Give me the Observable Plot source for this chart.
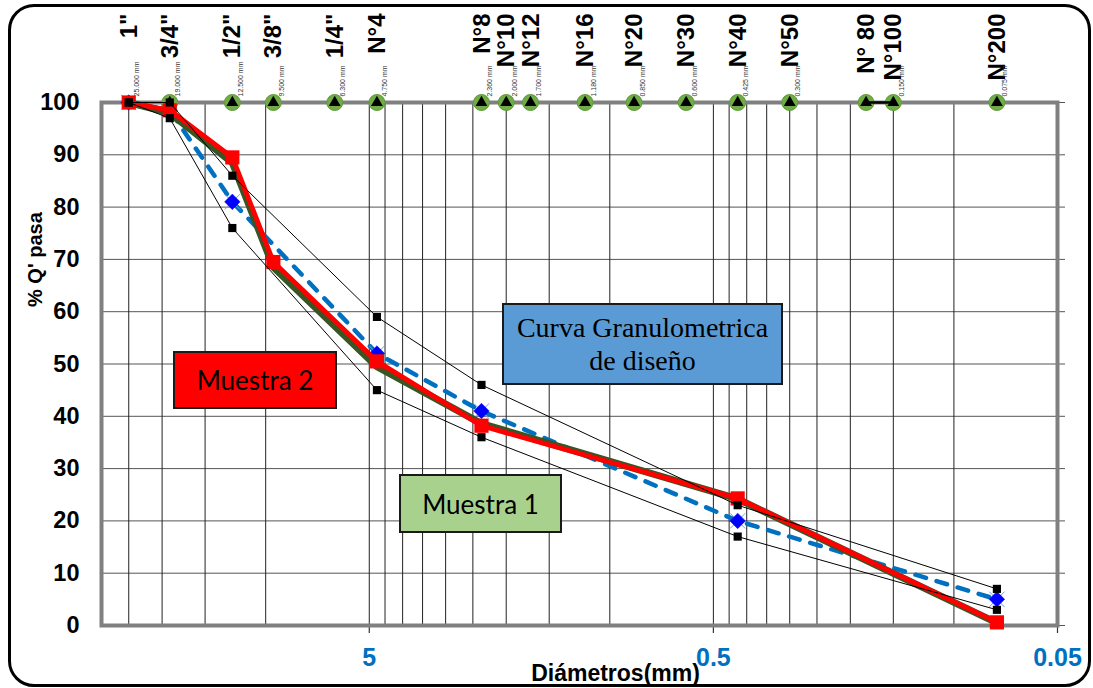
<!DOCTYPE html>
<html>
<head>
<meta charset="utf-8">
<script src="https://cdn.jsdelivr.net/npm/d3@7"></script>
<script src="https://cdn.jsdelivr.net/npm/@observablehq/plot@0.6"></script>
<style>
  body { margin: 0; background: #fff; }
  #wrap { position: relative; width: 1093px; height: 688px; overflow: hidden; background: #fff; }
  #wrap svg { position: absolute; left: 0; top: 0; }
  .outer { position: absolute; left: 8px; top: 4px; width: 1083px; height: 683px; box-sizing: border-box;
           border: 3px solid #000; border-radius: 26px; pointer-events: none; }
  .box { position: absolute; box-sizing: border-box; border: 2px solid #1a1a1a; display: flex;
         align-items: center; justify-content: center; text-align: center; color: #000; }
  .m2 { left: 173px; top: 351px; width: 164px; height: 58px; background: #ff0000;
        font-family: Lato, "Open Sans", sans-serif; font-size: 26px; }
  .m1 { left: 399px; top: 474px; width: 163px; height: 59px; background: #a9d18e;
        font-family: Lato, "Open Sans", sans-serif; font-size: 26px; }
  .cd { left: 502px; top: 303px; width: 281px; height: 82px; background: #5b9bd5;
        font-family: "Liberation Serif", "DejaVu Serif", serif; font-size: 28px; line-height: 33px; }
</style>
</head>
<body>
<div id="wrap"></div>
<script>
// ---- data ----
const sieveNames = ["1\"", "3/4\"", "1/2\"", "3/8\"", "1/4\"", "N°4", "N°8", "N°10", "N°12", "N°16", "N°20", "N°30", "N°40", "N°50", "N° 80", "N°100", "N°200"];
const sieveMm = [25, 19, 12.5, 9.5, 6.3, 4.75, 2.36, 2.0, 1.7, 1.18, 0.85, 0.6, 0.425, 0.3, 0.18, 0.15, 0.075];
const sieveMmLabels = ["25.000 mm", "19.000 mm", "12.500 mm", "9.500 mm", "6.300 mm", "4.750 mm", "2.360 mm", "2.000 mm", "1.700 mm", "1.180 mm", "0.850 mm", "0.600 mm", "0.425 mm", "0.300 mm", "", "0.150 mm", "0.075 mm"];
const sieveMarkerMm = [19, 12.5, 9.5, 6.3, 4.75, 2.36, 2.0, 1.7, 1.18, 0.85, 0.6, 0.425, 0.3, 0.18, 0.15, 0.075];
const sieveMarkerPass = 100;
const joinedSieves = [0.18, 0.15];

const sampleMm = [25, 19, 12.5, 9.5, 4.75, 2.36, 0.425, 0.075];
const muestra1 = [100, 98, 88.5, 68.5, 49.5, 38.6, 24.2, 0.5];
const muestra2 = [100, 98.5, 89.5, 69.5, 50.5, 38.2, 24.3, 0.6];

const specMm = [25, 19, 12.5, 4.75, 2.36, 0.425, 0.075];
const limiteSuperior = [100, 100, 86, 59, 46, 23, 7];
const limiteInferior = [100, 97, 76, 45, 36, 17, 3];
const curvaDiseno = [100, 98.5, 81, 52, 41, 20, 5];

const xTickValues = [5, 0.5, 0.05];
const xTickLabels = ["5", "0.5", "0.05"];
const yTickValues = [0, 10, 20, 30, 40, 50, 60, 70, 80, 90, 100];
const yTickLabels = ["0", "10", "20", "30", "40", "50", "60", "70", "80", "90", "100"];
const xGridValues = [25, 20, 15, 10, 5, 4.5, 4, 3.5, 3, 2.5, 2, 1.5, 1, 0.5, 0.45, 0.4, 0.35, 0.3, 0.25, 0.2, 0.15, 0.1];
const yGridValues = [10, 20, 30, 40, 50, 60, 70, 80, 90];
const xTitle = "Diámetros(mm)";
const yTitle = "% Q' pasa";

// ---- tables ----
const sieves = sieveMm.map((mm, i) => ({mm, name: sieveNames[i], small: sieveMmLabels[i]}));
const markers = sieveMarkerMm.map(mm => ({mm, p: sieveMarkerPass}));
const joined = joinedSieves.map(mm => ({mm, p: sieveMarkerPass}));
const m1 = sampleMm.map((mm, i) => ({mm, p: muestra1[i]}));
const m2 = sampleMm.map((mm, i) => ({mm, p: muestra2[i]}));
const sup = specMm.map((mm, i) => ({mm, p: limiteSuperior[i]}));
const inf = specMm.map((mm, i) => ({mm, p: limiteInferior[i]}));
const dis = specMm.map((mm, i) => ({mm, p: curvaDiseno[i]}));
const xTicks = xTickValues.map((v, i) => ({v, t: xTickLabels[i]}));
const yTicks = yTickValues.map((v, i) => ({v, t: yTickLabels[i]}));

const chart = Plot.plot({
  width: 1093,
  height: 688,
  marginLeft: 101,
  marginRight: 36,
  marginTop: 102,
  marginBottom: 63,
  style: {fontFamily: "'Liberation Sans', Arial, sans-serif", background: "transparent"},
  x: {type: "log", domain: [30, 0.05], axis: null},
  y: {domain: [0, 100], axis: null},
  marks: [
    Plot.ruleY(yGridValues, {stroke: "#555", strokeWidth: 1}),
    Plot.ruleX(xGridValues, {stroke: "#222", strokeWidth: 1}),
    Plot.ruleY(yTickValues, {stroke: "#555", strokeWidth: 1, insetLeft: 956, insetRight: -8}),
    Plot.ruleX(xTickValues, {stroke: "#333", strokeWidth: 1.2, insetTop: 523, insetBottom: -8}),
    Plot.frame({stroke: "#808080", strokeWidth: 4}),
    // tick labels
    Plot.text(yTicks, {y: "v", text: "t", frameAnchor: "left", textAnchor: "end", dx: -22, fontSize: 23.5, fontWeight: "bold", fill: "#000"}),
    Plot.text(xTicks, {x: "v", text: "t", frameAnchor: "bottom", lineAnchor: "bottom", dy: 40, fontSize: 25, fontWeight: "bold", fill: "#0070c0"}),
    Plot.text([xTitle], {text: d => d, frameAnchor: "bottom", lineAnchor: "bottom", dx: 36, dy: 55, fontSize: 23, fontWeight: "bold", fill: "#000"}),
    Plot.text([yTitle], {text: d => d, frameAnchor: "left", rotate: -90, dx: -66, dy: -57, fontSize: 20, fontWeight: "bold", fill: "#000"}),
    // sieve labels
    Plot.text(sieves, {x: "mm", text: "name", frameAnchor: "top", rotate: -90, textAnchor: "end", dx: -9, dy: -89, fontSize: 24, fontWeight: "bold", fill: "#000"}),
    Plot.text(sieves, {x: "mm", text: "small", frameAnchor: "top", rotate: -90, textAnchor: "start", dx: 5.5, dy: -6, fontSize: 7, fill: "#333"}),
    // sieve markers at 100%
    Plot.dot(markers, {x: "mm", y: "p", r: 8, fill: "#70ad47", stroke: "#5f9a3a", strokeWidth: 1}),
    Plot.line(joined, {x: "mm", y: "p", stroke: "#000", strokeWidth: 2.5}),
    Plot.dot(markers, {x: "mm", y: "p", symbol: "triangle", r: 4.4, fill: "#000"}),
    // design curve
    Plot.line(dis, {x: "mm", y: "p", stroke: "#0070c0", strokeWidth: 4.5, strokeDasharray: "11,11", strokeLinecap: "round"}),
    Plot.dot(dis, {x: "mm", y: "p", symbol: "times", r: 7, stroke: "#6fa0e0", strokeWidth: 1}),
    Plot.dot(dis, {x: "mm", y: "p", symbol: "diamond2", r: 7, fill: "#0000ff", stroke: "#0000ff", strokeWidth: 0.5}),
    // samples
    Plot.line(m1, {x: "mm", y: "p", stroke: "#375623", strokeWidth: 7, strokeLinejoin: "miter"}),
    Plot.line(m2, {x: "mm", y: "p", stroke: "#ff0000", strokeWidth: 5, strokeLinejoin: "miter"}),
    Plot.dot(m2, {x: "mm", y: "p", symbol: "square", r: 8, fill: "#ff0000"}),
    // limits
    Plot.line(sup, {x: "mm", y: "p", stroke: "#000", strokeWidth: 1}),
    Plot.line(inf, {x: "mm", y: "p", stroke: "#000", strokeWidth: 1}),
    Plot.dot(sup, {x: "mm", y: "p", symbol: "square", r: 4.6, fill: "#000"}),
    Plot.dot(inf, {x: "mm", y: "p", symbol: "square", r: 4.6, fill: "#000"})
  ]
});

const wrap = document.getElementById("wrap");
wrap.appendChild(chart);

function addBox(cls, html) {
  const d = document.createElement("div");
  d.className = "box " + cls;
  d.innerHTML = html;
  wrap.appendChild(d);
}
addBox("m2", "Muestra 2");
addBox("m1", "Muestra 1");
addBox("cd", "Curva Granulometrica<br>de diseño");
const outer = document.createElement("div");
outer.className = "outer";
wrap.appendChild(outer);
</script>
</body>
</html>
